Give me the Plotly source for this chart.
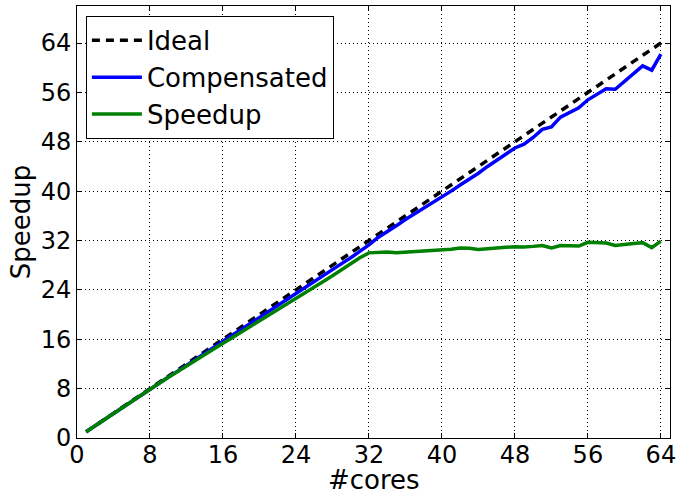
import plotly.graph_objects as go

cores = list(range(1, 65))
ideal = [float(c) for c in cores]
compensated = [1.0, 2.0, 3.0, 3.95, 4.95, 5.9, 6.9, 7.9, 8.85, 9.85,
               10.8, 11.8, 12.75, 13.75, 14.7, 15.7, 16.65, 17.6, 18.6, 19.55,
               20.5, 21.5, 22.45, 23.4, 24.4, 25.35, 26.3, 27.3, 28.25, 29.2,
               30.2, 31.3, 32.5, 33.4, 34.4, 35.4, 36.3, 37.3, 38.1, 39.1,
               40.0, 41.0, 41.9, 42.9, 44.0, 45.0, 46.0, 47.0, 47.6, 48.7,
               50.0, 50.4, 52.0, 52.8, 53.5, 54.8, 55.7, 56.6, 56.5, 57.8,
               59.1, 60.3, 59.6, 62.2]
speedup = [1.0, 2.0, 3.0, 4.0, 4.95, 5.95, 6.95, 7.95, 8.9, 9.85,
           10.75, 11.7, 12.6, 13.55, 14.45, 15.35, 16.25, 17.15, 18.0, 18.9,
           19.8, 20.7, 21.6, 22.55, 23.5, 24.45, 25.35, 26.3, 27.3, 28.25,
           29.2, 30.0, 30.1, 30.15, 30.0, 30.1, 30.15, 30.25, 30.35, 30.45,
           30.6, 30.8, 30.75, 30.55, 30.7, 30.85, 30.9, 31.0, 30.95, 31.05,
           31.2, 30.8, 31.2, 31.15, 31.1, 31.7, 31.65, 31.6, 31.2, 31.3,
           31.5, 31.65, 30.85, 31.9]
tick_vals = [0, 8, 16, 24, 32, 40, 48, 56, 64]
tick_text = [str(v) for v in tick_vals]

fig = go.Figure()
fig.add_trace(go.Scatter(x=cores, y=ideal, mode="lines", name="Ideal",
                         line=dict(color="black", width=3.5, dash="8px,6px")))
fig.add_trace(go.Scatter(x=cores, y=compensated, mode="lines", name="Compensated",
                         line=dict(color="#0000ff", width=3.5)))
fig.add_trace(go.Scatter(x=cores, y=speedup, mode="lines", name="Speedup",
                         line=dict(color="#008000", width=3.5)))

axis_common = dict(
    showgrid=True, gridcolor="black", griddash="1px,3px", gridwidth=1,
    showline=True, linecolor="black", linewidth=1, mirror="ticks",
    ticks="inside", ticklen=5, tickcolor="black", tickwidth=1,
    tickvals=tick_vals, ticktext=tick_text, zeroline=False,
    tickfont=dict(size=24, color="black", family="DejaVu Sans"),
)

fig.update_layout(
    width=681, height=491,
    margin=dict(l=77, r=11, t=6, b=53, autoexpand=False),
    paper_bgcolor="white", plot_bgcolor="white",
    font=dict(family="DejaVu Sans", color="black", size=26),
    xaxis=dict(range=[0, 65], automargin=False, ticklabelstandoff=-5,
               **axis_common),
    yaxis=dict(range=[0, 70], automargin=False,
               title=dict(text="Speedup", font=dict(size=26), standoff=2),
               **axis_common),
    legend=dict(x=0.015, y=0.977, xanchor="left", yanchor="top",
                bgcolor="white", bordercolor="black", borderwidth=1,
                font=dict(size=26, family="DejaVu Sans"), itemwidth=50,
                tracegroupgap=0),
    showlegend=True,
    annotations=[dict(text="#cores", xref="paper", yref="paper", x=0.5, y=0,
                      xanchor="center", yanchor="middle", yshift=-42,
                      showarrow=False, font=dict(size=26, color="black"))],
)

fig.write_html("out.html", config={"displayModeBar": False},
               post_script="document.body.style.margin='0';document.body.style.padding='0';")
